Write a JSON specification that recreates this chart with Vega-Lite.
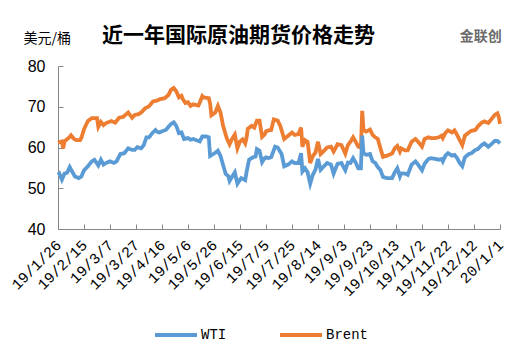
{
  "$schema": "https://vega.github.io/schema/vega-lite/v6.json",
  "width": 442,
  "height": 163,
  "autosize": {"type": "none"},
  "padding": {"left": 58, "top": 66, "right": 32, "bottom": 125},
  "background": "white",
  "config": {"view": {"stroke": null}},
  "title": {
    "text": "近一年国际原油期货价格走势",
    "anchor": "start",
    "frame": "group",
    "dx": 44,
    "offset": -16,
    "font": "Noto Sans CJK SC",
    "fontSize": 21,
    "fontWeight": "bold",
    "color": "#000000"
  },
  "datasets": {
    "logo": [{"t": "金联创"}],
    "oil": [
{"d":"2019/01/26","s":"Brent","v":61.2},{"d":"2019/01/29","s":"Brent","v":61.5},{"d":"2019/01/30","s":"Brent","v":59.8},{"d":"2019/01/31","s":"Brent","v":61.5},{"d":"2019/02/04","s":"Brent","v":62.6},{"d":"2019/02/05","s":"Brent","v":63.0},{"d":"2019/02/07","s":"Brent","v":62.2},{"d":"2019/02/09","s":"Brent","v":61.8},{"d":"2019/02/12","s":"Brent","v":61.8},{"d":"2019/02/13","s":"Brent","v":62.4},{"d":"2019/02/15","s":"Brent","v":64.5},{"d":"2019/02/18","s":"Brent","v":66.5},{"d":"2019/02/21","s":"Brent","v":67.2},{"d":"2019/02/25","s":"Brent","v":67.2},{"d":"2019/02/26","s":"Brent","v":65.1},{"d":"2019/02/28","s":"Brent","v":66.3},{"d":"2019/03/02","s":"Brent","v":65.5},{"d":"2019/03/04","s":"Brent","v":66.0},{"d":"2019/03/08","s":"Brent","v":66.5},{"d":"2019/03/11","s":"Brent","v":66.1},{"d":"2019/03/14","s":"Brent","v":67.3},{"d":"2019/03/17","s":"Brent","v":67.5},{"d":"2019/03/21","s":"Brent","v":68.6},{"d":"2019/03/24","s":"Brent","v":67.3},{"d":"2019/03/26","s":"Brent","v":68.0},{"d":"2019/03/29","s":"Brent","v":68.2},{"d":"2019/03/31","s":"Brent","v":68.6},{"d":"2019/04/03","s":"Brent","v":69.6},{"d":"2019/04/06","s":"Brent","v":70.1},{"d":"2019/04/09","s":"Brent","v":71.3},{"d":"2019/04/12","s":"Brent","v":71.5},{"d":"2019/04/14","s":"Brent","v":71.8},{"d":"2019/04/18","s":"Brent","v":72.1},{"d":"2019/04/21","s":"Brent","v":72.9},{"d":"2019/04/23","s":"Brent","v":74.2},{"d":"2019/04/25","s":"Brent","v":74.6},{"d":"2019/04/27","s":"Brent","v":73.8},{"d":"2019/04/29","s":"Brent","v":72.3},{"d":"2019/05/01","s":"Brent","v":72.7},{"d":"2019/05/02","s":"Brent","v":71.9},{"d":"2019/05/04","s":"Brent","v":70.9},{"d":"2019/05/06","s":"Brent","v":71.1},{"d":"2019/05/08","s":"Brent","v":70.2},{"d":"2019/05/10","s":"Brent","v":70.6},{"d":"2019/05/14","s":"Brent","v":70.3},{"d":"2019/05/15","s":"Brent","v":71.0},{"d":"2019/05/17","s":"Brent","v":72.6},{"d":"2019/05/18","s":"Brent","v":72.3},{"d":"2019/05/22","s":"Brent","v":72.1},{"d":"2019/05/23","s":"Brent","v":70.8},{"d":"2019/05/24","s":"Brent","v":67.9},{"d":"2019/05/27","s":"Brent","v":68.6},{"d":"2019/05/29","s":"Brent","v":70.2},{"d":"2019/05/31","s":"Brent","v":68.6},{"d":"2019/06/02","s":"Brent","v":65.3},{"d":"2019/06/05","s":"Brent","v":62.1},{"d":"2019/06/07","s":"Brent","v":60.8},{"d":"2019/06/09","s":"Brent","v":62.2},{"d":"2019/06/11","s":"Brent","v":63.2},{"d":"2019/06/13","s":"Brent","v":59.8},{"d":"2019/06/15","s":"Brent","v":61.5},{"d":"2019/06/17","s":"Brent","v":62.0},{"d":"2019/06/19","s":"Brent","v":61.0},{"d":"2019/06/20","s":"Brent","v":62.3},{"d":"2019/06/21","s":"Brent","v":64.6},{"d":"2019/06/24","s":"Brent","v":65.3},{"d":"2019/06/26","s":"Brent","v":64.9},{"d":"2019/06/28","s":"Brent","v":66.6},{"d":"2019/06/30","s":"Brent","v":66.6},{"d":"2019/07/02","s":"Brent","v":62.6},{"d":"2019/07/04","s":"Brent","v":63.2},{"d":"2019/07/05","s":"Brent","v":64.0},{"d":"2019/07/07","s":"Brent","v":64.2},{"d":"2019/07/09","s":"Brent","v":64.3},{"d":"2019/07/11","s":"Brent","v":66.9},{"d":"2019/07/14","s":"Brent","v":66.6},{"d":"2019/07/16","s":"Brent","v":65.3},{"d":"2019/07/19","s":"Brent","v":62.1},{"d":"2019/07/22","s":"Brent","v":62.9},{"d":"2019/07/25","s":"Brent","v":63.7},{"d":"2019/07/27","s":"Brent","v":63.1},{"d":"2019/07/30","s":"Brent","v":63.3},{"d":"2019/08/01","s":"Brent","v":64.9},{"d":"2019/08/02","s":"Brent","v":60.2},{"d":"2019/08/04","s":"Brent","v":61.8},{"d":"2019/08/06","s":"Brent","v":61.4},{"d":"2019/08/08","s":"Brent","v":56.2},{"d":"2019/08/10","s":"Brent","v":57.9},{"d":"2019/08/12","s":"Brent","v":58.7},{"d":"2019/08/14","s":"Brent","v":61.4},{"d":"2019/08/16","s":"Brent","v":58.4},{"d":"2019/08/18","s":"Brent","v":59.0},{"d":"2019/08/21","s":"Brent","v":60.0},{"d":"2019/08/24","s":"Brent","v":60.2},{"d":"2019/08/26","s":"Brent","v":59.0},{"d":"2019/08/29","s":"Brent","v":60.8},{"d":"2019/09/01","s":"Brent","v":60.6},{"d":"2019/09/04","s":"Brent","v":58.5},{"d":"2019/09/06","s":"Brent","v":60.6},{"d":"2019/09/08","s":"Brent","v":61.4},{"d":"2019/09/10","s":"Brent","v":62.5},{"d":"2019/09/12","s":"Brent","v":61.4},{"d":"2019/09/14","s":"Brent","v":60.2},{"d":"2019/09/16","s":"Brent","v":60.0},{"d":"2019/09/17","s":"Brent","v":69.0},{"d":"2019/09/18","s":"Brent","v":64.3},{"d":"2019/09/20","s":"Brent","v":63.9},{"d":"2019/09/23","s":"Brent","v":64.4},{"d":"2019/09/25","s":"Brent","v":63.1},{"d":"2019/09/27","s":"Brent","v":62.5},{"d":"2019/09/29","s":"Brent","v":62.1},{"d":"2019/10/01","s":"Brent","v":59.8},{"d":"2019/10/03","s":"Brent","v":57.7},{"d":"2019/10/06","s":"Brent","v":58.0},{"d":"2019/10/10","s":"Brent","v":58.5},{"d":"2019/10/12","s":"Brent","v":59.8},{"d":"2019/10/14","s":"Brent","v":60.4},{"d":"2019/10/16","s":"Brent","v":59.0},{"d":"2019/10/17","s":"Brent","v":59.8},{"d":"2019/10/20","s":"Brent","v":59.3},{"d":"2019/10/22","s":"Brent","v":59.3},{"d":"2019/10/25","s":"Brent","v":61.4},{"d":"2019/10/28","s":"Brent","v":62.1},{"d":"2019/10/30","s":"Brent","v":61.4},{"d":"2019/11/02","s":"Brent","v":60.2},{"d":"2019/11/04","s":"Brent","v":62.1},{"d":"2019/11/07","s":"Brent","v":62.5},{"d":"2019/11/09","s":"Brent","v":62.3},{"d":"2019/11/12","s":"Brent","v":62.3},{"d":"2019/11/15","s":"Brent","v":62.5},{"d":"2019/11/17","s":"Brent","v":62.9},{"d":"2019/11/18","s":"Brent","v":62.3},{"d":"2019/11/20","s":"Brent","v":63.6},{"d":"2019/11/22","s":"Brent","v":64.2},{"d":"2019/11/25","s":"Brent","v":63.7},{"d":"2019/11/27","s":"Brent","v":64.2},{"d":"2019/11/29","s":"Brent","v":63.1},{"d":"2019/12/01","s":"Brent","v":61.8},{"d":"2019/12/03","s":"Brent","v":60.6},{"d":"2019/12/05","s":"Brent","v":62.9},{"d":"2019/12/08","s":"Brent","v":63.7},{"d":"2019/12/10","s":"Brent","v":64.1},{"d":"2019/12/13","s":"Brent","v":64.3},{"d":"2019/12/15","s":"Brent","v":65.2},{"d":"2019/12/18","s":"Brent","v":66.1},{"d":"2019/12/20","s":"Brent","v":66.4},{"d":"2019/12/23","s":"Brent","v":66.0},{"d":"2019/12/26","s":"Brent","v":67.2},{"d":"2019/12/28","s":"Brent","v":68.0},{"d":"2019/12/30","s":"Brent","v":68.4},{"d":"2019/12/31","s":"Brent","v":67.6},{"d":"2020/01/01","s":"Brent","v":65.8},
{"d":"2019/01/26","s":"WTI","v":53.3},{"d":"2019/01/27","s":"WTI","v":53.6},{"d":"2019/01/29","s":"WTI","v":52.1},{"d":"2019/01/31","s":"WTI","v":53.6},{"d":"2019/02/02","s":"WTI","v":53.8},{"d":"2019/02/04","s":"WTI","v":55.2},{"d":"2019/02/05","s":"WTI","v":54.6},{"d":"2019/02/08","s":"WTI","v":52.9},{"d":"2019/02/11","s":"WTI","v":52.5},{"d":"2019/02/13","s":"WTI","v":52.9},{"d":"2019/02/15","s":"WTI","v":54.4},{"d":"2019/02/18","s":"WTI","v":55.4},{"d":"2019/02/21","s":"WTI","v":56.6},{"d":"2019/02/23","s":"WTI","v":57.0},{"d":"2019/02/26","s":"WTI","v":55.6},{"d":"2019/02/28","s":"WTI","v":57.0},{"d":"2019/03/02","s":"WTI","v":55.8},{"d":"2019/03/04","s":"WTI","v":56.2},{"d":"2019/03/07","s":"WTI","v":56.6},{"d":"2019/03/10","s":"WTI","v":56.2},{"d":"2019/03/12","s":"WTI","v":56.6},{"d":"2019/03/15","s":"WTI","v":58.4},{"d":"2019/03/18","s":"WTI","v":58.6},{"d":"2019/03/21","s":"WTI","v":59.8},{"d":"2019/03/24","s":"WTI","v":59.4},{"d":"2019/03/26","s":"WTI","v":59.4},{"d":"2019/03/28","s":"WTI","v":60.1},{"d":"2019/03/31","s":"WTI","v":59.8},{"d":"2019/04/02","s":"WTI","v":60.6},{"d":"2019/04/04","s":"WTI","v":62.5},{"d":"2019/04/06","s":"WTI","v":62.5},{"d":"2019/04/09","s":"WTI","v":63.7},{"d":"2019/04/11","s":"WTI","v":64.3},{"d":"2019/04/12","s":"WTI","v":63.9},{"d":"2019/04/14","s":"WTI","v":63.7},{"d":"2019/04/17","s":"WTI","v":64.1},{"d":"2019/04/19","s":"WTI","v":64.3},{"d":"2019/04/21","s":"WTI","v":65.1},{"d":"2019/04/23","s":"WTI","v":65.8},{"d":"2019/04/25","s":"WTI","v":66.2},{"d":"2019/04/27","s":"WTI","v":65.3},{"d":"2019/04/29","s":"WTI","v":63.5},{"d":"2019/05/01","s":"WTI","v":63.7},{"d":"2019/05/03","s":"WTI","v":62.1},{"d":"2019/05/06","s":"WTI","v":62.3},{"d":"2019/05/08","s":"WTI","v":61.9},{"d":"2019/05/10","s":"WTI","v":62.1},{"d":"2019/05/13","s":"WTI","v":61.7},{"d":"2019/05/15","s":"WTI","v":61.5},{"d":"2019/05/17","s":"WTI","v":62.7},{"d":"2019/05/20","s":"WTI","v":62.7},{"d":"2019/05/22","s":"WTI","v":62.5},{"d":"2019/05/23","s":"WTI","v":57.9},{"d":"2019/05/27","s":"WTI","v":58.7},{"d":"2019/05/29","s":"WTI","v":59.2},{"d":"2019/05/31","s":"WTI","v":57.9},{"d":"2019/06/02","s":"WTI","v":55.7},{"d":"2019/06/04","s":"WTI","v":53.5},{"d":"2019/06/06","s":"WTI","v":53.0},{"d":"2019/06/07","s":"WTI","v":51.8},{"d":"2019/06/09","s":"WTI","v":52.9},{"d":"2019/06/11","s":"WTI","v":53.9},{"d":"2019/06/13","s":"WTI","v":51.1},{"d":"2019/06/15","s":"WTI","v":52.1},{"d":"2019/06/16","s":"WTI","v":52.5},{"d":"2019/06/19","s":"WTI","v":52.0},{"d":"2019/06/20","s":"WTI","v":53.9},{"d":"2019/06/22","s":"WTI","v":57.0},{"d":"2019/06/25","s":"WTI","v":57.6},{"d":"2019/06/27","s":"WTI","v":57.8},{"d":"2019/06/28","s":"WTI","v":59.6},{"d":"2019/06/30","s":"WTI","v":59.2},{"d":"2019/07/02","s":"WTI","v":56.4},{"d":"2019/07/04","s":"WTI","v":57.4},{"d":"2019/07/05","s":"WTI","v":57.6},{"d":"2019/07/07","s":"WTI","v":57.4},{"d":"2019/07/09","s":"WTI","v":57.6},{"d":"2019/07/12","s":"WTI","v":60.2},{"d":"2019/07/14","s":"WTI","v":60.0},{"d":"2019/07/17","s":"WTI","v":58.4},{"d":"2019/07/19","s":"WTI","v":55.4},{"d":"2019/07/22","s":"WTI","v":55.8},{"d":"2019/07/25","s":"WTI","v":56.6},{"d":"2019/07/27","s":"WTI","v":56.2},{"d":"2019/07/30","s":"WTI","v":56.2},{"d":"2019/08/01","s":"WTI","v":58.6},{"d":"2019/08/02","s":"WTI","v":54.1},{"d":"2019/08/04","s":"WTI","v":54.9},{"d":"2019/08/06","s":"WTI","v":53.9},{"d":"2019/08/08","s":"WTI","v":51.1},{"d":"2019/08/10","s":"WTI","v":53.3},{"d":"2019/08/12","s":"WTI","v":54.5},{"d":"2019/08/14","s":"WTI","v":57.2},{"d":"2019/08/16","s":"WTI","v":54.5},{"d":"2019/08/18","s":"WTI","v":55.2},{"d":"2019/08/21","s":"WTI","v":56.2},{"d":"2019/08/24","s":"WTI","v":55.8},{"d":"2019/08/26","s":"WTI","v":53.6},{"d":"2019/08/29","s":"WTI","v":56.0},{"d":"2019/09/01","s":"WTI","v":56.2},{"d":"2019/09/04","s":"WTI","v":54.4},{"d":"2019/09/06","s":"WTI","v":56.3},{"d":"2019/09/08","s":"WTI","v":56.2},{"d":"2019/09/10","s":"WTI","v":57.4},{"d":"2019/09/12","s":"WTI","v":56.3},{"d":"2019/09/14","s":"WTI","v":54.9},{"d":"2019/09/16","s":"WTI","v":54.9},{"d":"2019/09/17","s":"WTI","v":62.9},{"d":"2019/09/18","s":"WTI","v":58.6},{"d":"2019/09/20","s":"WTI","v":58.2},{"d":"2019/09/23","s":"WTI","v":58.4},{"d":"2019/09/25","s":"WTI","v":56.6},{"d":"2019/09/27","s":"WTI","v":56.2},{"d":"2019/09/29","s":"WTI","v":55.2},{"d":"2019/10/01","s":"WTI","v":54.5},{"d":"2019/10/03","s":"WTI","v":52.8},{"d":"2019/10/06","s":"WTI","v":52.5},{"d":"2019/10/10","s":"WTI","v":52.5},{"d":"2019/10/12","s":"WTI","v":53.9},{"d":"2019/10/14","s":"WTI","v":54.9},{"d":"2019/10/16","s":"WTI","v":52.9},{"d":"2019/10/17","s":"WTI","v":53.7},{"d":"2019/10/20","s":"WTI","v":53.6},{"d":"2019/10/22","s":"WTI","v":53.3},{"d":"2019/10/25","s":"WTI","v":55.8},{"d":"2019/10/28","s":"WTI","v":56.6},{"d":"2019/10/30","s":"WTI","v":55.8},{"d":"2019/11/02","s":"WTI","v":54.4},{"d":"2019/11/04","s":"WTI","v":56.0},{"d":"2019/11/07","s":"WTI","v":57.2},{"d":"2019/11/09","s":"WTI","v":57.4},{"d":"2019/11/12","s":"WTI","v":57.2},{"d":"2019/11/15","s":"WTI","v":57.0},{"d":"2019/11/17","s":"WTI","v":57.2},{"d":"2019/11/18","s":"WTI","v":56.6},{"d":"2019/11/20","s":"WTI","v":58.0},{"d":"2019/11/22","s":"WTI","v":58.6},{"d":"2019/11/25","s":"WTI","v":58.0},{"d":"2019/11/27","s":"WTI","v":58.2},{"d":"2019/11/29","s":"WTI","v":57.4},{"d":"2019/12/01","s":"WTI","v":56.2},{"d":"2019/12/03","s":"WTI","v":55.4},{"d":"2019/12/05","s":"WTI","v":57.6},{"d":"2019/12/08","s":"WTI","v":58.4},{"d":"2019/12/10","s":"WTI","v":58.6},{"d":"2019/12/13","s":"WTI","v":59.4},{"d":"2019/12/15","s":"WTI","v":59.6},{"d":"2019/12/18","s":"WTI","v":60.6},{"d":"2019/12/20","s":"WTI","v":61.0},{"d":"2019/12/23","s":"WTI","v":60.2},{"d":"2019/12/26","s":"WTI","v":61.0},{"d":"2019/12/28","s":"WTI","v":61.6},{"d":"2019/12/30","s":"WTI","v":61.6},{"d":"2020/01/01","s":"WTI","v":61.0}
    ]
  },
  "layer": [
    {
      "data": {"name": "oil"},
      "mark": {"type": "line", "strokeWidth": 3.8, "interpolate": "linear"},
      "encoding": {
        "x": {
          "field": "d",
          "type": "temporal",
          "scale": {"domain": [{"year": 2019, "month": 1, "date": 26}, {"year": 2020, "month": 1, "date": 1}]},
          "axis": {
            "title": null,
            "grid": false,
            "tickCount": 40,
            "values": [
              {"year": 2019, "month": 1, "date": 26},
              {"year": 2019, "month": 2, "date": 15},
              {"year": 2019, "month": 3, "date": 7},
              {"year": 2019, "month": 3, "date": 27},
              {"year": 2019, "month": 4, "date": 16},
              {"year": 2019, "month": 5, "date": 6},
              {"year": 2019, "month": 5, "date": 26},
              {"year": 2019, "month": 6, "date": 15},
              {"year": 2019, "month": 7, "date": 5},
              {"year": 2019, "month": 7, "date": 25},
              {"year": 2019, "month": 8, "date": 14},
              {"year": 2019, "month": 9, "date": 3},
              {"year": 2019, "month": 9, "date": 23},
              {"year": 2019, "month": 10, "date": 13},
              {"year": 2019, "month": 11, "date": 2},
              {"year": 2019, "month": 11, "date": 22},
              {"year": 2019, "month": 12, "date": 12},
              {"year": 2020, "month": 1, "date": 1}
            ],
            "format": "%y/%-m/%-d",
            "labelAngle": -45,
            "labelAlign": "right",
            "labelBaseline": "middle",
            "labelPadding": 18,
            "labelOverlap": false,
            "labelFlush": false,
            "labelFont": "Liberation Mono",
            "labelFontSize": 15,
            "labelColor": "#000000",
            "tickSize": -5,
            "tickColor": "#868686",
            "domainColor": "#868686"
          }
        },
        "y": {
          "field": "v",
          "type": "quantitative",
          "scale": {"domain": [40, 80], "nice": false, "zero": false},
          "axis": {
            "title": "美元/桶",
            "titleAngle": 0,
            "titleAlign": "left",
            "titleBaseline": "middle",
            "titleX": -35,
            "titleY": -28,
            "titleFont": "Noto Sans CJK SC",
            "titleFontSize": 14,
            "titleFontWeight": "normal",
            "titleColor": "#000000",
            "grid": false,
            "values": [40, 50, 60, 70, 80],
            "labelFont": "Liberation Sans",
            "labelFontSize": 16,
            "labelColor": "#000000",
            "labelPadding": 18,
            "tickSize": -5,
            "tickColor": "#868686",
            "domainColor": "#868686"
          }
        },
        "color": {
          "field": "s",
          "type": "nominal",
          "scale": {"domain": ["WTI", "Brent"], "range": ["#5B9BD5", "#ED7D31"]},
          "legend": {
            "title": null,
            "orient": "none",
            "direction": "horizontal",
            "legendX": 95,
            "legendY": 246,
            "symbolType": "stroke",
            "symbolSize": 1764,
            "symbolStrokeWidth": 4,
            "labelFont": "Liberation Mono",
            "labelFontSize": 14,
            "labelColor": "#000000",
            "labelOffset": 2,
            "columnPadding": 45
          }
        }
      }
    },
    {
      "data": {"name": "logo"},
      "mark": {"type": "text", "font": "Noto Sans CJK SC", "fontSize": 14, "fontWeight": "bold", "color": "#6b6b6b", "align": "left", "baseline": "middle"},
      "encoding": {
        "x": {"datum": {"year": 2019, "month": 12, "date": 1}, "type": "temporal"},
        "y": {"datum": 87, "type": "quantitative"},
        "text": {"field": "t"}
      }
    }
  ]
}
